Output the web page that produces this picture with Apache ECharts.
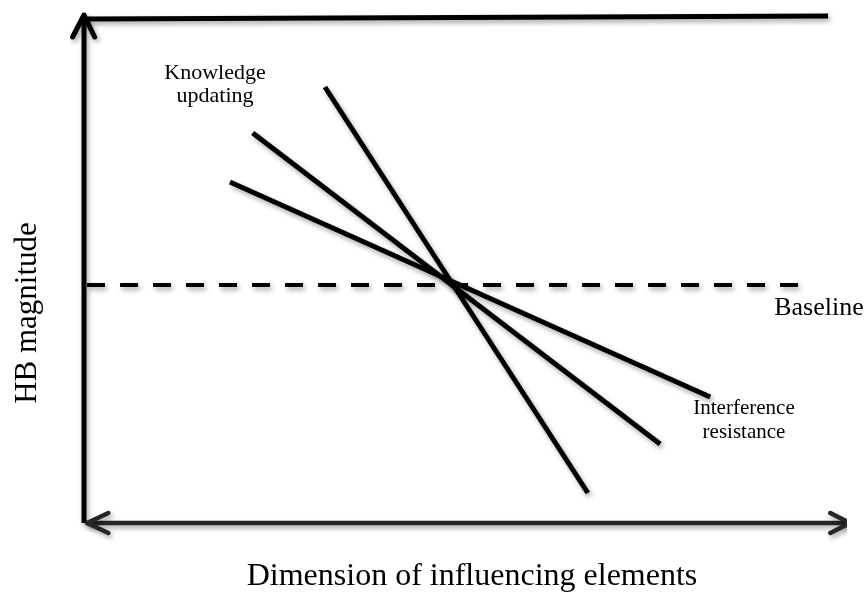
<!DOCTYPE html>
<html>
<head>
<meta charset="utf-8">
<script src="https://cdn.jsdelivr.net/npm/echarts@6/dist/echarts.min.js"></script>
<style>
html,body{margin:0;padding:0;background:#fff;}
#chart{width:867px;height:595px;}
</style>
</head>
<body>
<div id="chart"></div>
<script>
// Conceptual diagram data (data units: x 0..100, y 0..100)
const verticalAxis = [[0, 0], [0, 101.6]];
const verticalArrow = [[-1.5, 97.2], [0, 101.6], [1.4, 97.2]];
const horizontalAxis = [[0.4, 0], [100.8, 0]];
const leftArrow = [[3.2, 2], [0.4, 0], [3.2, -2]];
const rightArrow = [[98.2, 2], [100.8, 0], [98.2, -2]];
const topLine = [[0.4, 100.8], [97.9, 101.4]];
const baseline = [[0.4, 47.6], [94.9, 47.6]];
const steepLine = [[31.7, 87.2], [66.3, 6.0]];
const knowledgeLine = [[22.2, 78.0], [75.8, 15.8]];
const interferenceLine = [[19.2, 68.2], [82.4, 25.2]];

const yTitle = 'HB magnitude';
const xTitle = 'Dimension of influencing elements';
const labelKnowledge = 'Knowledge\nupdating';
const labelBaseline = 'Baseline';
const labelInterference = 'Interference\nresistance';

const serif = '"Liberation Serif", "DejaVu Serif", serif';
const shadow = {shadowColor: 'rgba(0,0,0,0.35)', shadowBlur: 5, shadowOffsetX: 2, shadowOffsetY: 3};

function seg(data, color, width, extra) {
  return {
    type: 'line', data: data, symbol: 'none', clip: false, silent: true,
    lineStyle: Object.assign({color: color, width: width, cap: 'round', join: 'round'}, shadow, extra || {})
  };
}

// x: -10..100 so that 0 -> 84px, 100 -> 844px ; y: -10..100 so that 0 -> 523px, 100 -> 23px
const chart = echarts.init(document.getElementById('chart'), null, {renderer: 'canvas'});
chart.setOption({
  animation: false,
  backgroundColor: '#ffffff',
  grid: {left: 8, right: 23, top: 23, bottom: 22},
  xAxis: {type: 'value', min: -10, max: 100, show: false},
  yAxis: {type: 'value', min: -10, max: 100, show: false},
  series: [
    seg(topLine, '#000', 5, {cap: 'butt'}),
    seg(baseline, '#000', 4, {type: [18, 15], cap: 'butt'}),
    seg(verticalAxis, '#000', 5, {cap: 'butt'}),
    seg(verticalArrow, '#000', 5),
    seg(horizontalAxis, '#262626', 4.5, {cap: 'butt'}),
    seg(leftArrow, '#262626', 4.5),
    seg(rightArrow, '#262626', 4.5),
    seg(steepLine, '#000', 5, {cap: 'butt'}),
    seg(knowledgeLine, '#000', 5, {cap: 'butt'}),
    seg(interferenceLine, '#000', 5, {cap: 'butt'})
  ],
  graphic: [
    {type: 'text', x: 28, y: 313, rotation: Math.PI / 2,
     style: {text: yTitle, font: '31px ' + serif, fill: '#000', align: 'center', verticalAlign: 'middle'}},
    {type: 'text', x: 472, y: 577,
     style: {text: xTitle, font: '32px ' + serif, fill: '#000', align: 'center', verticalAlign: 'middle'}},
    {type: 'text', x: 215, y: 85,
     style: {text: labelKnowledge, font: '22px ' + serif, lineHeight: 23, fill: '#000', align: 'center', verticalAlign: 'middle'}},
    {type: 'text', x: 819, y: 308,
     style: {text: labelBaseline, font: '26px ' + serif, fill: '#000', align: 'center', verticalAlign: 'middle'}},
    {type: 'text', x: 744, y: 420,
     style: {text: labelInterference, font: '21px ' + serif, lineHeight: 24, fill: '#000', align: 'center', verticalAlign: 'middle'}}
  ]
});
</script>
</body>
</html>
